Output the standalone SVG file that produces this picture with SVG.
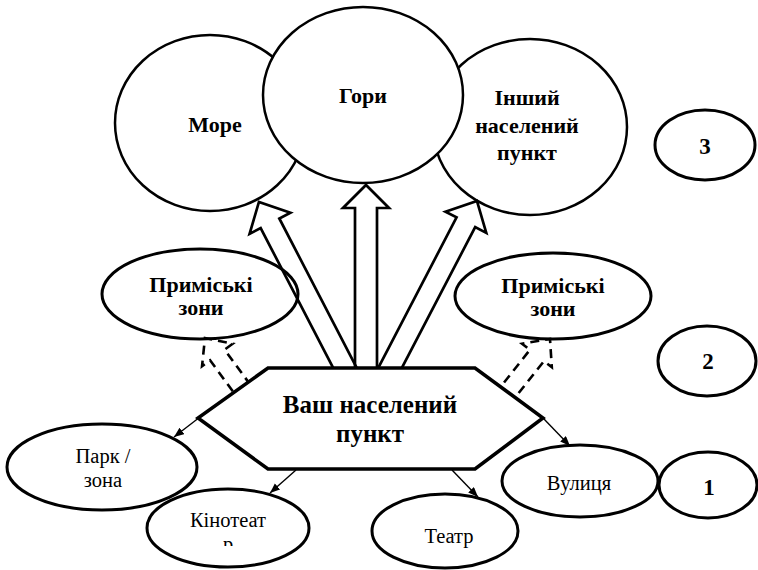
<svg xmlns="http://www.w3.org/2000/svg" width="758" height="570" viewBox="0 0 758 570" font-family="Liberation Serif, serif">
<style>
  .big { fill:#fff; stroke:#000; stroke-width:2.5; }
  .sm { fill:#fff; stroke:#000; stroke-width:3; }
  .hex { fill:#fff; stroke:#000; stroke-width:3.5; stroke-linejoin:miter; }
  .blk { fill:none; stroke:#000; stroke-width:2.7; stroke-linejoin:miter; }
  .dash { fill:none; stroke:#000; stroke-width:2.6; stroke-dasharray:9 6; }
  .thin { fill:none; stroke:#000; stroke-width:1.4; }
  .tb { font-family:"Liberation Serif", serif; font-weight:bold; font-size:22px; text-anchor:middle; fill:#000; }
  .tr { font-family:"Liberation Serif", serif; font-size:20.5px; text-anchor:middle; fill:#000; }
  .hx { font-size:25px; }
  .num { font-size:23px; }
</style>
<defs>
  <marker id="ah" markerUnits="userSpaceOnUse" markerWidth="11" markerHeight="9" refX="10" refY="4" orient="auto">
    <path d="M0,0 L10,4 L0,8 z" fill="#000"/>
  </marker>
  <clipPath id="clipK"><rect x="140" y="480" width="180" height="66"/></clipPath>
</defs>

<g id="node-more">
  <ellipse class="big" cx="210" cy="123" rx="95" ry="88"/>
  <text class="tb" x="215" y="132">Море</text>
</g>
<g id="node-inshyi">
  <ellipse class="big" cx="530" cy="127" rx="97" ry="88"/>
  <text class="tb" x="527" y="105">Інший</text>
  <text class="tb" x="527" y="133">населений</text>
  <text class="tb" x="527" y="160">пункт</text>
</g>
<g id="node-hory">
  <ellipse class="big" cx="363" cy="95" rx="100" ry="88"/>
  <text class="tb" x="363" y="103">Гори</text>
</g>

<g id="node-prymiski-left">
  <ellipse class="sm" cx="200" cy="294" rx="98" ry="45"/>
  <text class="tb" x="201" y="292">Приміські</text>
  <text class="tb" x="201" y="315">зони</text>
</g>
<g id="node-prymiski-right">
  <ellipse class="sm" cx="553" cy="296" rx="98" ry="43"/>
  <text class="tb" x="553" y="293">Приміські</text>
  <text class="tb" x="553" y="316">зони</text>
</g>

<g id="connectors">
  <polygon class="blk" transform="translate(345,368) rotate(-27.4)" points="-10.5,12 -10.5,-163 -23,-163 0,-187 23,-163 10.5,-163 10.5,12"/>
  <polygon class="blk" points="355,380 355,208 343,208 366,185 389,208 377,208 377,380"/>
  <polygon class="blk" transform="translate(390,368) rotate(27.5)" points="-10.5,12 -10.5,-164.3 -23,-164.3 0,-188.3 23,-164.3 10.5,-164.3 10.5,12"/>
  <polygon class="dash" transform="translate(243,390) rotate(-36.2)" points="-9,10 -9,-43.4 -19,-43.4 0,-64.4 19,-43.4 9,-43.4 9,10"/>
  <polygon class="dash" transform="translate(508,392) rotate(38.4)" points="-9,10 -9,-46.6 -19,-46.6 0,-67.6 19,-46.6 9,-46.6 9,10"/>
  <line class="thin" x1="200" y1="417" x2="174" y2="437" marker-end="url(#ah)"/>
  <line class="thin" x1="296" y1="470" x2="270" y2="493" marker-end="url(#ah)"/>
  <line class="thin" x1="452" y1="470" x2="478" y2="497" marker-end="url(#ah)"/>
  <line class="thin" x1="543" y1="418" x2="570" y2="446" marker-end="url(#ah)"/>
</g>

<g id="node-vash">
  <polygon class="hex" points="268,368 475,368 543,418 475,469 268,469 198,418"/>
  <text class="tb hx" x="370" y="413">Ваш населений</text>
  <text class="tb hx" x="370" y="442">пункт</text>
</g>

<g id="node-park">
  <ellipse class="sm" cx="102" cy="467" rx="95" ry="43"/>
  <text class="tr" x="103" y="463">Парк /</text>
  <text class="tr" x="103" y="487">зона</text>
</g>
<g id="node-kino">
  <ellipse class="sm" cx="228" cy="528" rx="81" ry="39"/>
  <text class="tr" x="228" y="527">Кінотеат</text>
  <text class="tr" x="228" y="551" clip-path="url(#clipK)">р</text>
</g>
<g id="node-teatr">
  <ellipse class="sm" cx="445" cy="531" rx="73" ry="37"/>
  <text class="tr" x="449" y="543">Театр</text>
</g>
<g id="node-vulytsia">
  <ellipse class="sm" cx="580" cy="481" rx="78" ry="36"/>
  <text class="tr" x="579" y="490">Вулиця</text>
</g>

<g id="level-3">
  <ellipse class="sm" cx="705" cy="145" rx="50" ry="35"/>
  <text class="tb num" x="705" y="154">3</text>
</g>
<g id="level-2">
  <ellipse class="sm" cx="707" cy="361" rx="49" ry="35"/>
  <text class="tb num" x="708" y="369">2</text>
</g>
<g id="level-1">
  <ellipse class="sm" cx="708" cy="485" rx="49" ry="33"/>
  <text class="tb num" x="709" y="495">1</text>
</g>
</svg>
